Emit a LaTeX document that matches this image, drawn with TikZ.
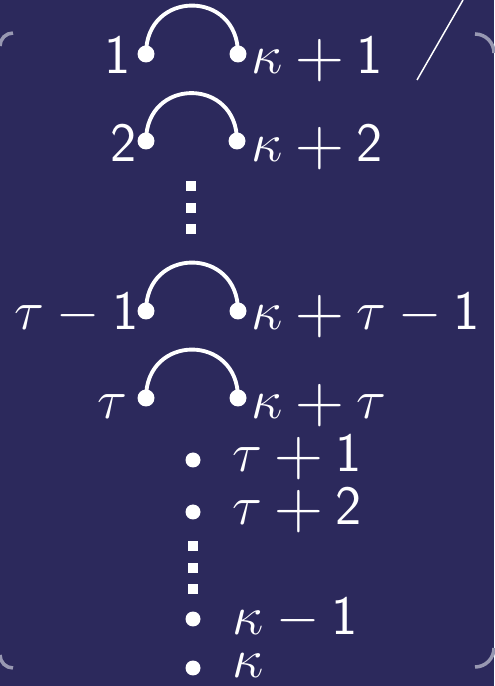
\documentclass[tikz,border=0pt]{standalone}
\usepackage{graphicx}
\usetikzlibrary{positioning}
\definecolor{slate}{RGB}{44,41,92}
\definecolor{haze}{RGB}{152,152,178}
\newcommand{\pl}{\mathbin{\vcenter{\hbox{\scalebox{1.22}{$+$}}}}}
\newcommand{\mn}{\mathbin{-}}
\newcommand{\dg}[1]{\mathsf{#1}}
\tikzset{
  knot/.style={circle,fill=white,inner sep=0pt,minimum size=3.4mm},
  bul/.style={circle,fill=white,inner sep=0pt,minimum size=3mm},
  sq/.style={fill=white,inner sep=0pt,minimum size=2mm},
  lbl/.style={text=white,inner sep=0pt,font=\Huge,scale=1.27},
  link/.style={white,line width=2.2pt},
  rim/.style={haze,line width=2pt},
}
\begin{document}
\begin{tikzpicture}[x=0.02cm,y=0.02cm]
  \useasboundingbox (0,0) rectangle (494,686);
  \fill[slate] (0,0) rectangle (494,686);
  % corner marks
  \draw[rim] (0,640) arc[start angle=180,end angle=90,radius=13];
  \draw[rim] (475,652) arc[start angle=90,end angle=0,radius=19];
  \draw[rim] (494,38) arc[start angle=0,end angle=-90,radius=19];
  \draw[rim] (13,18) arc[start angle=270,end angle=180,radius=13];
  \coordinate (s1) at (417,606);
  \coordinate (s2) at (463,686);
  \draw[white,line width=0.85pt] (s1) -- (s2);
  % paired points
  \node[knot] (l1) at (146,632) {};
  \node[knot] (r1) at (238,632) {};
  \node[lbl,anchor=base east] (a1) at (131,612) {$\dg{1}$};
  \node[lbl,anchor=base west] (b1) at (251,612) {$\kappa\pl\dg{1}$};
  \node[knot] (l2) at (146,545) {};
  \node[knot] (r2) at (237,545) {};
  \node[lbl,anchor=base east] (a2) at (137,524) {$\dg{2}$};
  \node[lbl,anchor=base west] (b2) at (251,524) {$\kappa\pl\dg{2}$};
  \node[knot] (l3) at (146,375) {};
  \node[knot] (r3) at (238,375) {};
  \node[lbl,anchor=base east] (a3) at (139,356) {$\tau\mn\dg{1}$};
  \node[lbl,anchor=base west] (b3) at (251,356) {$\kappa\pl\tau\mn\dg{1}$};
  \node[knot] (l4) at (146,288) {};
  \node[knot] (r4) at (238,288) {};
  \node[lbl,anchor=base east] (a4) at (128,267) {$\tau$};
  \node[lbl,anchor=base west] (b4) at (251,267) {$\kappa\pl\tau$};
  \foreach \k in {1,...,4}
    \draw[link] (l\k.center) to[out=90,in=90,looseness=1.8] (r\k.center);
  % dots
  \foreach \y [count=\k] in {500,478,457} \node[sq] (u\k) at (191,\y) {};
  \foreach \y [count=\k] in {140,118,97} \node[sq] (v\k) at (193,\y) {};
  % single points
  \node[bul] (p1) at (193,226) {};
  \node[lbl,anchor=base west] (q1) at (232,214) {$\tau\pl\dg{1}$};
  \node[bul] (p2) at (193,174) {};
  \node[lbl,anchor=base west] (q2) at (232,161) {$\tau\pl\dg{2}$};
  \node[bul] (p3) at (193,67) {};
  \node[lbl,anchor=base west] (q3) at (232,51) {$\kappa\mn\dg{1}$};
  \node[bul] (p4) at (193,18) {};
  \node[lbl,anchor=base west] (q4) at (232,8) {$\kappa$};
\end{tikzpicture}
\end{document}
